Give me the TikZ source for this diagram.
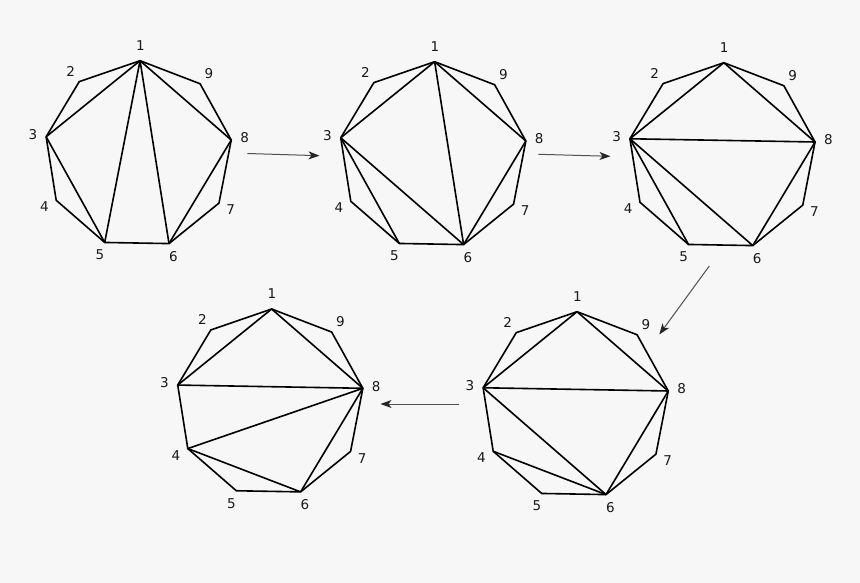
\documentclass[tikz,border=0pt]{standalone}
\usepackage{fontspec}
\setmainfont{DejaVu Sans}
\usetikzlibrary{arrows.meta}
\definecolor{bg}{RGB}{247,247,247}
\definecolor{arrowgray}{RGB}{80,80,80}
\definecolor{lblcol}{RGB}{25,25,25}
\tikzset{
  edge/.style={black, line width=1.6pt, line join=miter},
  lbl/.style={inner sep=0pt, text=lblcol, font=\fontsize{13.5}{15}\selectfont},
  flow/.style={arrowgray, line width=1pt, -{Stealth[length=11pt,width=8pt,inset=3pt,black!85]}}
}
\newcommand\myRad{94}
\newcommand\nonagon[4]{% prefix, cx, cy, diagonals
  \begin{scope}[shift={(#2,#3)}]
    \foreach \i in {1,...,9} {
      \pgfmathsetmacro\ang{-(90+40*(\i-1)-1)}
      \coordinate (#1\i) at (\ang:\myRad);
      \pgfmathsetmacro\ld{ifthenelse(\i==1,15.5,13.5)}
      \node[lbl] (#1l\i) at (\ang:\myRad+\ld) {\i};
    }
    \draw[edge] (#11) -- (#12) -- (#13) -- (#14) -- (#15) -- (#16) -- (#17) -- (#18) -- (#19) -- cycle;
    \foreach \a/\b in {#4} { \draw[edge] (#1\a) -- (#1\b); }
  \end{scope}
}
\begin{document}
\begin{tikzpicture}[x=1pt,y=-1pt]
  \fill[bg] (0,0) rectangle (860,583);
  \useasboundingbox (0,0) rectangle (860,583);
  \nonagon{a}{138.4}{154.7}{1/3,1/5,1/6,1/8,3/5,6/8}
  \nonagon{b}{433}{155.7}{1/3,1/6,1/8,3/5,3/6,6/8}
  \nonagon{c}{722.2}{156.7}{1/3,1/8,3/8,3/5,3/6,6/8}
  \nonagon{d}{270}{403}{1/3,1/8,3/8,4/8,4/6,6/8}
  \nonagon{e}{575.4}{405.7}{1/3,1/8,3/8,3/6,4/6,6/8}
  \coordinate (s1) at (247.3,153.5);
  \coordinate (t1) at (319.5,155.7);
  \coordinate (s2) at (538.3,154.3);
  \coordinate (t2) at (610.5,156.3);
  \coordinate (s3) at (709.3,266);
  \coordinate (t3) at (659.3,334.5);
  \coordinate (s4) at (459.3,404);
  \coordinate (t4) at (380.5,404);
  \draw[flow] (s1) -- (t1);
  \draw[flow] (s2) -- (t2);
  \draw[flow] (s3) -- (t3);
  \draw[flow] (s4) -- (t4);
\end{tikzpicture}
\end{document}
